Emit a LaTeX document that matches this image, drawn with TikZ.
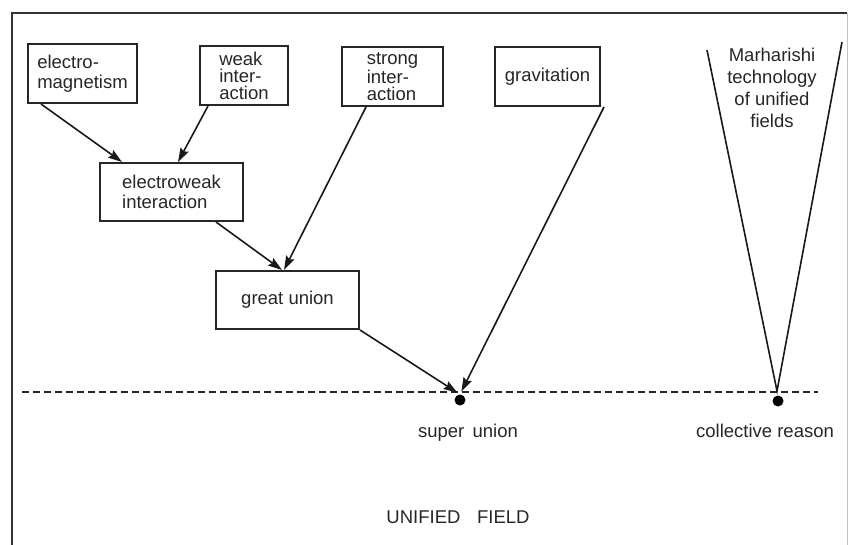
\documentclass[tikz,border=0pt]{standalone}
\usepackage{fontspec}
\setmainfont{Liberation Sans}
\usetikzlibrary{arrows.meta,calc}
\begin{document}
\begin{tikzpicture}[x=1pt,y=-1pt,
  box/.style={draw=black!85, line width=2pt, rectangle, align=left,
    font=\fontsize{18.5}{20}\selectfont, inner sep=0pt, text=black!85},
  tight/.style={font=\fontsize{18.5}{17}\selectfont},
  link/.style={line width=1.6pt, draw=black!90,
    -{Stealth[length=14pt,width=9pt,inset=2pt]}},
  lbl/.style={font=\fontsize{18.5}{22}\selectfont, text=black!85, inner sep=0pt},
  dot/.style={circle, fill=black, inner sep=0pt, minimum size=11pt}]
\useasboundingbox (0,0) rectangle (849,545);

% frame
\draw[line width=1.8pt, black!80] (12,545) -- (12,13) -- (847,13);
\draw[line width=1pt, black!25] (847,13) -- (847,545);

% the four interactions
\node[box, minimum width=109pt, minimum height=59pt] (em) at (82.5,73.5)
  {electro-\\magnetism};
\node[box, tight, minimum width=88pt, minimum height=59pt] (weak) at (244,75.5)
  {weak\\inter-\\action};
\node[box, tight, minimum width=101pt, minimum height=59pt] (strong) at (392.5,76.5)
  {strong\\inter-\\action};
\node[box, minimum width=105pt, minimum height=59pt] (grav) at (547.5,76.5)
  {gravitation};

% unions
\node[box, minimum width=143pt, minimum height=58pt] (ew) at (171.5,192)
  {electroweak\\interaction};
\node[box, minimum width=143pt, minimum height=58pt] (gu) at (287.5,300)
  {great union};

% base line and points on it
\coordinate (dl) at (22,392);
\coordinate (dr) at (818,392);
\draw[line width=1.3pt, black!85, dash pattern=on 7pt off 4pt] (dl) -- (dr);
\node[dot] (su) at (460,400) {};
\node[dot] (cr) at (778,401) {};
\node[lbl] (sulbl) at (468,433) {super\hspace{0.45em}union};
\node[lbl] (crlbl) at (765,431) {collective reason};
\node[lbl] (uf) at (458,517) {UNIFIED\hspace{0.9em}FIELD};

% arrows
\draw[link] ($(em.south west)+(14,0)$) -- ($(ew.north west)+(23,0)$);
\draw[link] ($(weak.south west)+(9,0)$) -- ($(ew.north west)+(79,0)$);
\draw[link] ($(ew.south east)+(-28,0)$) -- ($(gu.north west)+(67,0)$);
\draw[link] ($(strong.south west)+(25,0)$) -- ($(gu.north west)+(69,0)$);
\draw[link, shorten >=3pt] (gu.south east) -- (su.north);
\draw[link, shorten >=3pt] ($(grav.south east)+(3,0)$) -- (su.north);

% the cone of the technology of unified fields
\coordinate (vl) at (707,50);
\coordinate (vr) at (842,42);
\coordinate (apex) at (777,391);
\draw[line width=1.6pt, black!90] (vl) -- (apex) -- (vr);
\node[lbl, align=center] (mtuf) at (772,88)
  {Marharishi\\technology\\of unified\\fields};
\end{tikzpicture}
\end{document}
